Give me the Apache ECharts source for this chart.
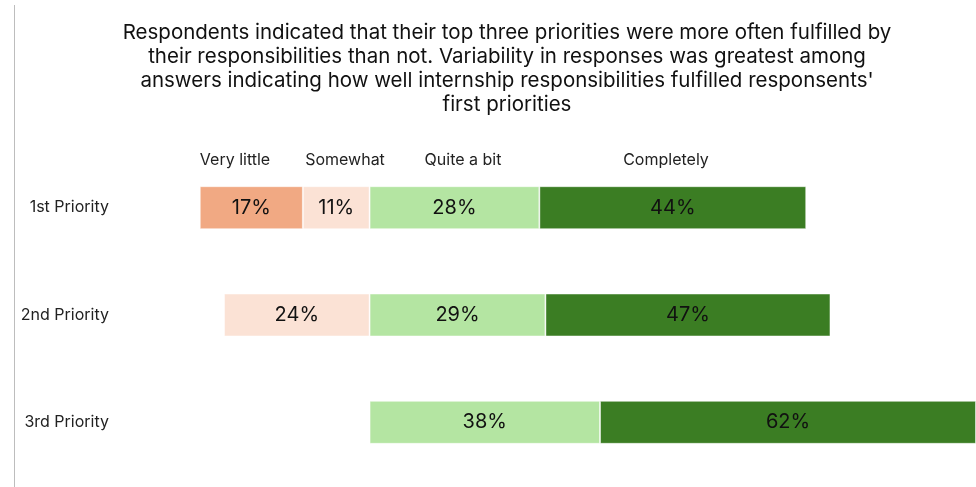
<!DOCTYPE html>
<html>
<head>
<meta charset="utf-8">
<script src="https://cdn.jsdelivr.net/npm/echarts@6/dist/echarts.min.js"></script>
<style>
  html, body { margin: 0; padding: 0; background: #fff; }
  #chart { width: 976px; height: 487px; }
</style>
</head>
<body>
<div id="chart"></div>
<script>
// Diverging stacked bars: how well internship responsibilities fulfilled each priority
const priorities = ['1st Priority', '2nd Priority', '3rd Priority'];
const levels = ['Very little', 'Somewhat', 'Quite a bit', 'Completely'];
// Percent of respondents per answer (null = no responses)
const veryLittle = [17, null, null];
const somewhat = [11, 24, null];
const quiteABit = [28, 29, 38];
const completely = [44, 47, 62];

const titleText = "Respondents indicated that their top three priorities were more often fulfilled by\n" +
  "their responsibilities than not. Variability in responses was greatest among\n" +
  "answers indicating how well internship responsibilities fulfilled responsents'\n" +
  "first priorities";

const FONT = 'Inter';
const colors = {
  'Very little': '#F1A983',
  'Somewhat': '#FBE2D5',
  'Quite a bit': '#B4E5A2',
  'Completely': '#3B7D23'
};

// Negative side is drawn to the left of zero
const neg = arr => arr.map(v => (v == null ? null : -v));

function barSeries(name, values) {
  return {
    name: name,
    type: 'bar',
    stack: 'total',
    barWidth: '40%',
    data: values,
    itemStyle: {
      color: colors[name],
      borderColor: 'rgba(255,255,255,0.45)',
      borderWidth: 1
    },
    label: {
      show: true,
      position: 'inside',
      color: '#111',
      fontFamily: FONT,
      fontSize: 20,
      formatter: p => (p.value == null ? '' : Math.abs(p.value) + '%')
    }
  };
}

function header(text, x) {
  return {
    type: 'text', x: x, y: 160,
    style: { text: text, textAlign: 'center', textVerticalAlign: 'middle', fontFamily: FONT, fontSize: 16, fill: '#222' }
  };
}

const chart = echarts.init(document.getElementById('chart'), null, { renderer: 'canvas' });

chart.setOption({
  animation: false,
  backgroundColor: '#fff',
  textStyle: { fontFamily: FONT },
  title: {
    text: titleText,
    left: 502,
    top: 16,
    textAlign: 'center',
    textStyle: {
      fontFamily: FONT,
      fontSize: 20.5,
      fontWeight: 'normal',
      color: '#111',
      lineHeight: 24
    }
  },
  grid: { left: 127, right: -2, top: 154, height: 322 },
  xAxis: {
    type: 'value',
    min: -40,
    max: 100,
    show: false
  },
  yAxis: {
    type: 'category',
    data: priorities,
    inverse: true,
    axisLine: { show: false },
    axisTick: { show: false },
    axisLabel: {
      margin: 18,
      color: '#222',
      fontFamily: FONT,
      fontSize: 16
    }
  },
  graphic: [
    { type: 'line', shape: { x1: 14.5, y1: 5, x2: 14.5, y2: 487 }, style: { stroke: '#bdbdbd', lineWidth: 1 } },
    header(levels[0], 235),
    header(levels[1], 345),
    header(levels[2], 463),
    header(levels[3], 666)
  ],
  series: [
    barSeries('Somewhat', neg(somewhat)),
    barSeries('Very little', neg(veryLittle)),
    barSeries('Quite a bit', quiteABit),
    barSeries('Completely', completely)
  ]
});
</script>
</body>
</html>
